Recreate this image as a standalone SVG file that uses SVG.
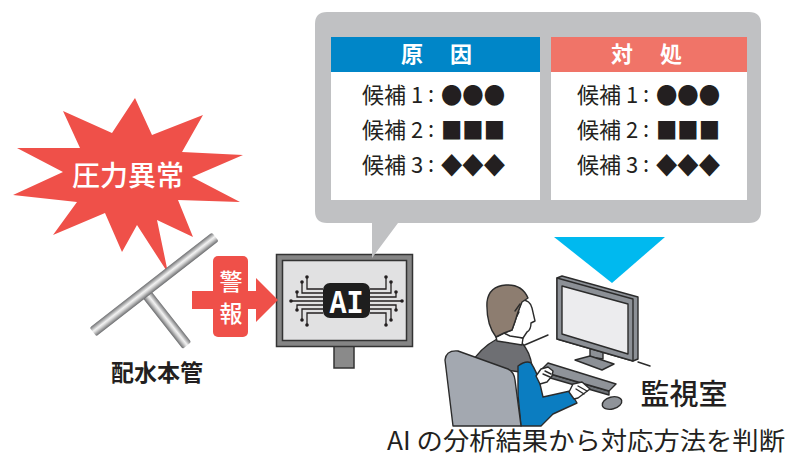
<svg xmlns="http://www.w3.org/2000/svg" width="787" height="460" viewBox="0 0 787 460">
  <defs>
    <style>
      .jp { font-family: "Noto Sans CJK JP", "Noto Sans", sans-serif; }
      .dark { fill: #231f20; }
      .white { fill: #ffffff; }
      .row { font-size: 22px; fill: #231f20; }
      .sym { font-size: 23px; fill: #231f20; }
      .hdr { font-size: 22px; fill: #ffffff; font-weight: bold; }
      .ink { stroke: #2b2b2b; stroke-width: 1.4; stroke-linejoin: round; stroke-linecap: round; }
      .trace { fill: none; stroke: #231f20; stroke-width: 1.3; }
      .dot { fill: #231f20; }
    </style>
    <linearGradient id="pipeShade" x1="0" y1="0" x2="0" y2="1">
      <stop offset="0" stop-color="#6f7072"/>
      <stop offset="0.45" stop-color="#f2f2f2"/>
      <stop offset="0.6" stop-color="#d9d9d9"/>
      <stop offset="1" stop-color="#6a6b6d"/>
    </linearGradient>
  </defs>

  <!-- pressure alarm burst -->
  <g id="alarm-burst">
    <polygon fill="#ef5049" points="135,98 152,135 203,115 182,152 243,155 192,177 240,202 178,200 193,237 157,220 168,273 137,225 122,252 105,213 53,235 77,202 13,195 63,172 17,148 80,148 63,111 112,133"/>
    <text class="jp white" x="128" y="186" font-size="28" font-weight="500" text-anchor="middle">圧力異常</text>
  </g>

  <!-- distribution main pipe -->
  <g id="main-pipe">
    <rect x="0" y="-5.5" width="68" height="11" rx="2" fill="url(#pipeShade)" transform="translate(145,292) rotate(51.9)"/>
    <rect x="0" y="-5.5" width="155" height="11" rx="2" fill="url(#pipeShade)" transform="translate(93,332) rotate(-37.9)"/>
    <text class="jp dark" x="157" y="381" font-size="23" font-weight="bold" text-anchor="middle">配水本管</text>
  </g>

  <!-- AI analysis monitor -->
  <g id="ai-monitor">
    <rect x="334" y="346" width="20" height="22" fill="#8a8a8a" stroke="#333" stroke-width="1.5"/>
    <rect x="276.5" y="254.5" width="136" height="92" fill="#858585" stroke="#333" stroke-width="1.5"/>
    <rect x="282.5" y="260.5" width="124" height="80" fill="#e1e1e2" stroke="#333" stroke-width="1.5"/>
    <g id="circuit">
      <path class="trace" d="M323,289 H307 V277 M323,293 H302 V282 M323,297 H297 V292 M323,301 H291 M323,305 H297 V310 M323,309 H302 V320 M323,313 H307 V325"/>
      <path class="trace" d="M370,289 H386 V277 M370,293 H391 V282 M370,297 H396 V292 M370,301 H402 M370,305 H396 V310 M370,309 H391 V320 M370,313 H386 V325"/>
      <g class="dot">
        <circle cx="307" cy="277" r="1.8"/><circle cx="302" cy="282" r="1.8"/><circle cx="297" cy="292" r="1.8"/><circle cx="291" cy="301" r="1.8"/>
        <circle cx="297" cy="310" r="1.8"/><circle cx="302" cy="320" r="1.8"/><circle cx="307" cy="325" r="1.8"/>
        <circle cx="386" cy="277" r="1.8"/><circle cx="391" cy="282" r="1.8"/><circle cx="396" cy="292" r="1.8"/><circle cx="402" cy="301" r="1.8"/>
        <circle cx="396" cy="310" r="1.8"/><circle cx="391" cy="320" r="1.8"/><circle cx="386" cy="325" r="1.8"/>
      </g>
      <rect x="323" y="283" width="47" height="35" rx="7" fill="#1e1e1e"/>
      <text x="346.5" y="313" font-family="'Liberation Mono', 'DejaVu Sans Mono', monospace" font-size="33" font-weight="bold" fill="#ffffff" text-anchor="middle" textLength="34" lengthAdjust="spacingAndGlyphs">AI</text>
    </g>
  </g>

  <!-- alarm signal arrow -->
  <g id="alarm-arrow">
    <rect x="192" y="291" width="65" height="18" fill="#ef5049"/>
    <polygon points="256,278 278,300 256,322" fill="#ef5049"/>
    <rect x="213" y="256" width="35" height="81" rx="5" fill="#ef5049"/>
    <text class="jp white" x="231" y="290" font-size="23" font-weight="500" text-anchor="middle">警</text>
    <text class="jp white" x="231" y="322" font-size="23" font-weight="500" text-anchor="middle">報</text>
  </g>

  <!-- speech bubble with cause / countermeasure lists -->
  <g id="result-bubble">
    <path fill="#c0c1c3" d="M327,12 H749 Q761,12 761,24 V211 Q761,223 749,223 H398 L372,258 L372,223 H327 Q315,223 315,211 V24 Q315,12 327,12 Z"/>
  </g>

  <g id="cause-panel">
    <rect x="331" y="37" width="209" height="163" fill="#ffffff"/>
    <rect x="331" y="37" width="209" height="35" fill="#0086c8"/>
    <text class="jp hdr" x="412" y="62" text-anchor="middle">原</text>
    <text class="jp hdr" x="461" y="62" text-anchor="middle">因</text>
    <text class="jp row" x="362" y="103">候補</text><text class="jp row" x="411" y="103">1</text><text class="jp row" x="428" y="102">:</text>
    <text class="jp sym" x="441" y="104" textLength="64" lengthAdjust="spacingAndGlyphs">●●●</text>
    <text class="jp row" x="362" y="138">候補</text><text class="jp row" x="411" y="138">2</text><text class="jp row" x="428" y="137">:</text>
    <text class="jp sym" x="441" y="139" textLength="64" lengthAdjust="spacingAndGlyphs">■■■</text>
    <text class="jp row" x="362" y="173">候補</text><text class="jp row" x="411" y="173">3</text><text class="jp row" x="428" y="172">:</text>
    <text class="jp sym" x="441" y="174" textLength="64" lengthAdjust="spacingAndGlyphs">◆◆◆</text>
  </g>

  <g id="action-panel">
    <rect x="551" y="37" width="196" height="163" fill="#ffffff"/>
    <rect x="551" y="37" width="196" height="35" fill="#f07468"/>
    <text class="jp hdr" x="622" y="62" text-anchor="middle">対</text>
    <text class="jp hdr" x="671" y="62" text-anchor="middle">処</text>
    <text class="jp row" x="577" y="103">候補</text><text class="jp row" x="626" y="103">1</text><text class="jp row" x="643" y="102">:</text>
    <text class="jp sym" x="656" y="104" textLength="64" lengthAdjust="spacingAndGlyphs">●●●</text>
    <text class="jp row" x="577" y="138">候補</text><text class="jp row" x="626" y="138">2</text><text class="jp row" x="643" y="137">:</text>
    <text class="jp sym" x="656" y="139" textLength="64" lengthAdjust="spacingAndGlyphs">■■■</text>
    <text class="jp row" x="577" y="173">候補</text><text class="jp row" x="626" y="173">3</text><text class="jp row" x="643" y="172">:</text>
    <text class="jp sym" x="656" y="174" textLength="64" lengthAdjust="spacingAndGlyphs">◆◆◆</text>
  </g>

  <!-- pointer down to the monitoring room -->
  <g id="pointer">
    <polygon points="554,237 665,237 612,283" fill="#00b9ef"/>
  </g>

  <!-- monitoring room scene -->
  <g id="monitoring-room">
    <path class="ink" fill="none" d="M520,347 L548,335 M638,362 L650,366"/>
    <!-- workstation display -->
    <polygon class="ink" fill="#8c9096" points="590,347 603,349 603,359 590,357"/>
    <polygon class="ink" fill="#8c9096" points="575,360 590,356 614,364 602,370"/>
    <polygon class="ink" fill="#8c9096" points="557,278 562,276 638,297 638,359 633,361 557,339"/>
    <polygon class="ink" fill="#8c9096" points="557,278 633,299 633,361 557,339"/>
    <polygon class="ink" fill="#ececee" points="562,286 628,304 628,354 562,334"/>
    <!-- keyboard and mouse -->
    <polygon class="ink" fill="#6e7277" points="540,371 609,391 609,395 540,375"/>
    <polygon class="ink" fill="#8f9399" points="548,363 616,384 609,391 540,371"/>
    <ellipse class="ink" cx="612" cy="403" rx="10" ry="6" fill="#8f9399" transform="rotate(-15 612 403)"/>
    <!-- operator -->
    <path class="ink" fill="#6e6f73" d="M470,365 Q480,348 497,339 L522,343 Q530,352 532,366 L520,372 Z"/>
    <path class="ink" fill="#ffffff" d="M496,337 L504,333 L523,338 L522,345 L497,341 Z"/>
    <path class="ink" fill="#0b7dc1" d="M518,366 Q526,360 531,363 Q537,372 540,384 L543,397 L570,391 L577,403 L553,414 L541,426 L521,426 L518,395 Z"/>
    <path class="ink" fill="#ffffff" d="M522,300 Q530,300 532,308 L535,321 L531,323 Q531,330 527,332 L523,338 L510,336 L504,333 L512,330 Q515,322 518,312 Z"/>
    <path class="ink" fill="#8d7d70" d="M487,302 Q489,286 506,285 Q522,284 528,298 L522,302 L518,312 Q515,322 512,330 L504,333 L496,337 Q486,324 487,302 Z"/>
    <path class="ink" fill="none" d="M520,304 L515,311 M519,312 L517,316"/>
    <path class="ink" fill="#a3a8b0" d="M445,360 Q446,350 458,351 L508,369 Q514,372 515,380 L521,426 L453,426 Z"/>
    <!-- hands on keyboard -->
    <path class="ink" fill="#ffffff" d="M536,376 L541,369 L548,367 L553,371 L552,376 L547,382 L540,384 Z"/>
    <path class="ink" fill="none" d="M545,371 L551,374 M543,374 L550,377"/>
    <path class="ink" fill="#ffffff" d="M569,392 L573,384 L582,382 L590,389 L586,392 L578,398 L574,399 Z"/>
    <path class="ink" fill="none" d="M578,386 L587,391 M576,389 L584,394"/>
    <text class="jp dark" x="684" y="405" font-size="29" font-weight="500" text-anchor="middle">監視室</text>
  </g>

  <!-- caption -->
  <text class="jp dark" x="387" y="450" font-size="25" textLength="398" lengthAdjust="spacingAndGlyphs">AI の分析結果から対応方法を判断</text>
</svg>
